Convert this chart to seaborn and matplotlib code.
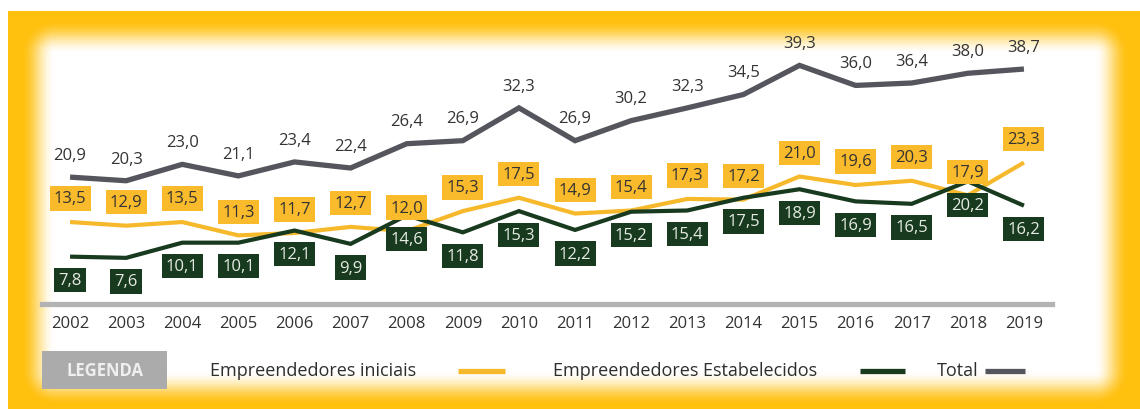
import numpy as np
import pandas as pd
import matplotlib
matplotlib.use("Agg")
import matplotlib.pyplot as plt
from matplotlib.patches import Rectangle
import seaborn as sns

# Taxas de empreendedorismo por ano (%)
anos = list(range(2002, 2020))
iniciais = [13.5, 12.9, 13.5, 11.3, 11.7, 12.7, 12.0, 15.3, 17.5, 14.9,
            15.4, 17.3, 17.2, 21.0, 19.6, 20.3, 17.9, 23.3]
estabelecidos = [7.8, 7.6, 10.1, 10.1, 12.1, 9.9, 14.6, 11.8, 15.3, 12.2,
                 15.2, 15.4, 17.5, 18.9, 16.9, 16.5, 20.2, 16.2]
total = [20.9, 20.3, 23.0, 21.1, 23.4, 22.4, 26.4, 26.9, 32.3, 26.9,
         30.2, 32.3, 34.5, 39.3, 36.0, 36.4, 38.0, 38.7]
series = ["Empreendedores iniciais", "Empreendedores Estabelecidos", "Total"]
cores = ["#F7B92C", "#183A1F", "#55555E"]

df = pd.DataFrame({
    "Ano": anos * 3,
    "Série": [s for s in series for _ in anos],
    "Taxa": iniciais + estabelecidos + total,
})

sns.set_theme(style="white")
plt.rcParams["font.family"] = ["Open Sans", "DejaVu Sans"]

W, H = 1140, 410
fig = plt.figure(figsize=(W / 100, H / 100), dpi=100)

# Moldura amarela com interior branco esfumado
bg = fig.add_axes([0, 0, 1, 1], zorder=0)
yy, xx = np.mgrid[0:H, 0:W] + 0.5
dx = np.maximum(np.maximum(55 - xx, xx - 1095), 0)
dy = np.maximum(np.maximum(55 - yy, yy - 372), 0)
t = np.clip(np.hypot(dx, dy) / 34, 0, 1)
t = t * t * (3 - 2 * t)
amarelo = np.array([255, 192, 14]) / 255
img = (1 - t[..., None]) * np.ones(3) + t[..., None] * amarelo
img[:12, :, :] = 1
img[:, :8, :] = 1
bg.imshow(img, extent=(0, W, H, 0), aspect="auto", interpolation="bilinear")
bg.set_xlim(0, W)
bg.set_ylim(H, 0)
bg.axis("off")

# Gráfico de linhas
ax = fig.add_axes([42 / W, (H - 305) / H, 1010 / W, 255 / H], zorder=1)
ax.set_facecolor("none")
sns.lineplot(data=df, x="Ano", y="Taxa", hue="Série", hue_order=series,
             palette=dict(zip(series, cores)), legend=False, ax=ax)
for line, lw in zip(ax.lines, [3.0, 3.0, 3.8]):
    line.set_linewidth(lw)
    line.set_solid_capstyle("butt")
    line.set_solid_joinstyle("miter")

ax.set_xlim(2001.5, 2019.5)
ax.set_ylim(0, 42)
ax.set_xlabel("")
ax.set_ylabel("")
ax.set_yticks([])
ax.set_xticks(anos)
ax.set_xticklabels([str(a) for a in anos], fontsize=12, color="#333333")
ax.tick_params(axis="x", length=0, pad=8)
for s in ["top", "left", "right"]:
    ax.spines[s].set_visible(False)
ax.spines["bottom"].set_color("#B3B3B3")
ax.spines["bottom"].set_linewidth(3.8)


def fmt(v):
    return f"{v:.1f}".replace(".", ",")


for a, v in zip(anos, total):
    ax.annotate(fmt(v), (a, v), xytext=(0, 16), textcoords="offset points",
                ha="center", va="center", fontsize=12, color="#333333",
                annotation_clip=False)
for a, v in zip(anos, iniciais):
    ax.annotate(fmt(v), (a, v), xytext=(0, 17), textcoords="offset points",
                ha="center", va="center", fontsize=12, color="#333333",
                bbox=dict(boxstyle="square,pad=0.25", fc="#F9BA2C", ec="none"),
                annotation_clip=False)
for a, v in zip(anos, estabelecidos):
    ax.annotate(fmt(v), (a, v), xytext=(0, -17), textcoords="offset points",
                ha="center", va="center", fontsize=12, color="#E6ECE4",
                bbox=dict(boxstyle="square,pad=0.25", fc="#183A1F", ec="none"),
                annotation_clip=False)

# Legenda
bg.add_patch(Rectangle((42, 352), 125, 38, fc="#ABABAB", ec="none"))
bg.text(104.5, 371, "LEGENDA", ha="center", va="center", fontsize=12,
        fontweight="bold", color="#EFEFEF")
itens = [(210, 458, 505), (553, 860, 905), (937, 985, 1025)]
for nome, cor, (xt, x0, x1) in zip(series, cores, itens):
    bg.text(xt, 371, nome, ha="left", va="center", fontsize=13,
            color="#2E2E2E")
    bg.plot([x0, x1], [372, 372], color=cor, lw=3.8, solid_capstyle="butt")

fig.savefig("out.png", dpi=100)
